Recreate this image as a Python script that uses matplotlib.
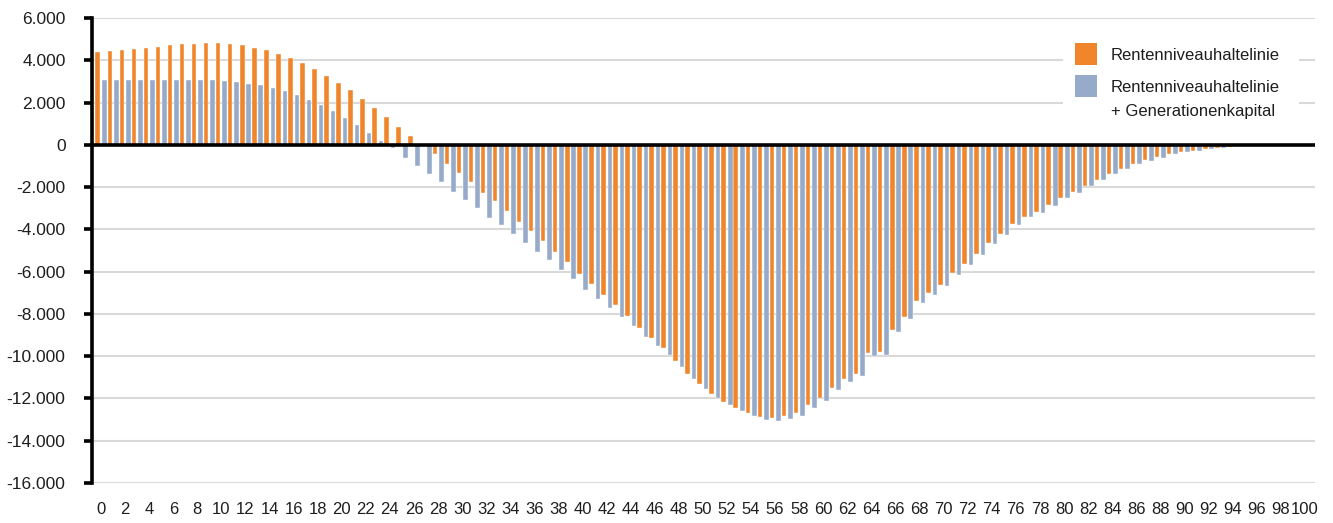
import numpy as np
import matplotlib
matplotlib.use("Agg")
import matplotlib.pyplot as plt
from matplotlib.patches import Rectangle
from matplotlib.ticker import FuncFormatter

plt.rcParams["font.family"] = ["Liberation Sans", "DejaVu Sans"]

years = list(range(0, 101))

rentenniveau = [
    4380, 4430, 4490, 4540, 4600, 4650, 4710, 4760, 4790, 4820,
    4810, 4760, 4710, 4600, 4480, 4320, 4110, 3870, 3590, 3270,
    2940, 2570, 2160, 1730, 1300, 825, 400, -20, -440, -910,
    -1340, -1780, -2260, -2670, -3130, -3630, -4100, -4560, -5050, -5550,
    -6100, -6600, -7100, -7560, -8100, -8650, -9150, -9620, -10220, -10830,
    -11330, -11790, -12150, -12430, -12690, -12860, -12920, -12830, -12690, -12330,
    -11990, -11490, -11080, -10830, -9870, -9810, -8760, -8140, -7400, -7010,
    -6620, -6080, -5630, -5160, -4650, -4230, -3740, -3400, -3180, -2860,
    -2500, -2250, -1950, -1650, -1370, -1130, -910, -740, -580, -440,
    -350, -270, -190, -130, -80, -40, -20, -10, -5, 0,
    0,
]

mit_kapital = [
    3060, 3060, 3090, 3090, 3080, 3060, 3060, 3060, 3060, 3050,
    3020, 2980, 2900, 2830, 2700, 2560, 2370, 2140, 1870, 1600,
    1290, 940, 570, 160, -140, -610, -1000, -1400, -1780, -2220,
    -2610, -3000, -3440, -3800, -4210, -4650, -5080, -5470, -5910, -6350,
    -6850, -7290, -7730, -8130, -8580, -9090, -9540, -9950, -10510, -11070,
    -11540, -11960, -12310, -12580, -12810, -13000, -13060, -12990, -12810, -12470,
    -12140, -11620, -11210, -10960, -9980, -9940, -8870, -8240, -7480, -7090,
    -6700, -6160, -5690, -5220, -4700, -4280, -3770, -3430, -3210, -2880,
    -2520, -2260, -1970, -1670, -1380, -1150, -930, -760, -600, -440,
    -350, -270, -190, -130, -65, -30, -15, -5, 0, 0,
    0,
]

labels = ["Rentenniveauhaltelinie", "Rentenniveauhaltelinie\n+ Generationenkapital"]
ORANGE = "#F0852A"
BLUE = "#96AACA"
TEXT = "#1e1e1e"

W, H = 1333, 523
fig = plt.figure(figsize=(W / 100, H / 100), dpi=100)
ax = fig.add_axes([92 / W, 1 - 483 / H, (1315 - 92) / W, (483 - 18) / H])

x = np.array(years)
w = 0.38
ax.bar(x - 0.27, rentenniveau, width=w, color=ORANGE, zorder=2,
       edgecolor="white", linewidth=0.3)
ax.bar(x + 0.27, mit_kapital, width=w, color=BLUE, zorder=2,
       edgecolor="white", linewidth=0.3)

ax.set_xlim(-0.75, 100.85)
ax.set_ylim(-16000, 6000)
ax.set_yticks(range(-16000, 6001, 2000))
ax.yaxis.set_major_formatter(FuncFormatter(lambda v, p: f"{v:,.0f}".replace(",", ".")))
ax.set_xticks(years[::2])
ax.set_xticklabels([str(y) for y in years[::2]])

ax.grid(axis="y", color="#D9D9D9", linewidth=1.5, zorder=0)
ax.set_axisbelow(True)
ax.axhline(0, color="black", linewidth=2.6, zorder=3)

for s in ["top", "right", "bottom"]:
    ax.spines[s].set_visible(False)
ax.spines["left"].set_linewidth(2.6)
ax.spines["left"].set_color("black")
ax.spines["left"].set_zorder(4)

ax.tick_params(axis="y", length=6, width=2.6, pad=13, labelsize=12.5, colors="black",
               labelcolor=TEXT)
ax.tick_params(axis="x", length=0, pad=14, labelsize=12, labelcolor=TEXT)

# legend drawn by hand so the square sits on the first text line
def fx(px):
    return px / W

def fy(py):
    return 1 - py / H

fig.patches.append(Rectangle((fx(1063), fy(126)), fx(1299) - fx(1063), fy(33) - fy(126),
                             transform=fig.transFigure, facecolor="white",
                             edgecolor="none", zorder=5))
for top, color in [(43, ORANGE), (75, BLUE)]:
    fig.patches.append(Rectangle((fx(1075), fy(top + 22)), fx(22), 22 / H,
                                 transform=fig.transFigure, facecolor=color,
                                 edgecolor="none", zorder=6))
fig.text(fx(1111), fy(55), labels[0], fontsize=12, color=TEXT, va="center",
         ha="left", zorder=7)
fig.text(fx(1111), fy(99.5), labels[1], fontsize=12, color=TEXT, va="center",
         ha="left", linespacing=1.8, zorder=7)

fig.savefig("out.png", dpi=100, facecolor="white")
